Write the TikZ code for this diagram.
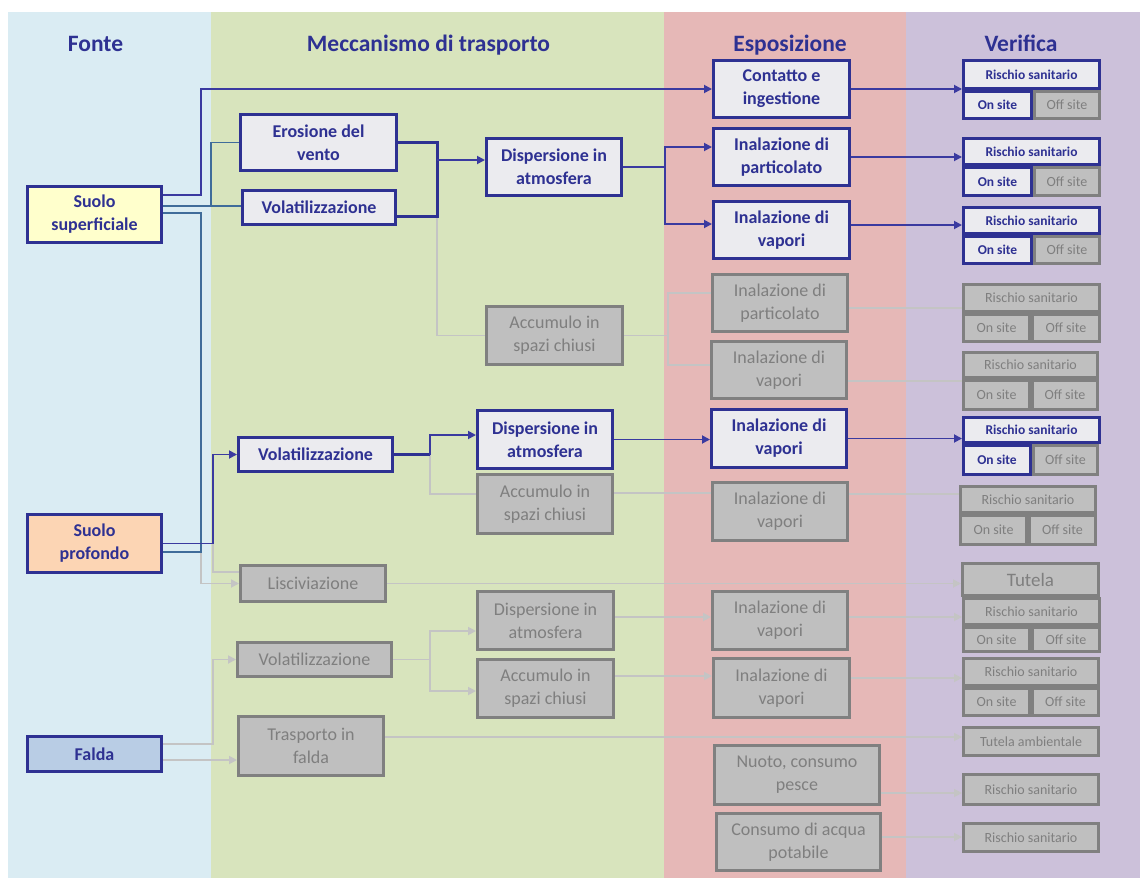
\documentclass[tikz,border=0pt]{standalone}
\usepackage{fontspec}
\setmainfont{Carlito}
\usetikzlibrary{arrows.meta}
\definecolor{dblue}{HTML}{2E3192}
\definecolor{cblue}{HTML}{3A3AA0}
\definecolor{sblue}{HTML}{3F6C9A}
\definecolor{lfill}{HTML}{EBEBEF}
\definecolor{gfill}{HTML}{BFBFBF}
\definecolor{gbord}{HTML}{808080}
\definecolor{gtext}{HTML}{7F7F7F}
\definecolor{gline}{HTML}{C4C4C4}
\definecolor{bgA}{HTML}{DAECF3}
\definecolor{bgB}{HTML}{D8E4BD}
\definecolor{bgC}{HTML}{E6B8B7}
\definecolor{bgD}{HTML}{CCC1DA}
\definecolor{yfill}{HTML}{FFFFCC}
\definecolor{pfill}{HTML}{FCD5B4}
\definecolor{ffill}{HTML}{B9CDE5}
\newcommand\bx[7]{\node[#1,minimum width={(#4-#3)*1pt-3pt},minimum height={(#6-#5)*1pt-3pt}] (#2) at ({(#3+#4)/2},{(#5+#6)/2}) {#7};}
\begin{document}
\begin{tikzpicture}[x=1pt,y=-1pt,
 bbox/.style={draw=dblue,line width=3pt,fill=lfill,text=dblue,font=\bfseries\fontsize{18}{23}\selectfont,align=center,inner sep=0pt},
 gbox/.style={draw=gbord,line width=3pt,fill=gfill,text=gtext,font=\fontsize{18}{23}\selectfont,align=center,inner sep=0pt},
 rsb/.style={draw=dblue,line width=3pt,fill=lfill,text=dblue,font=\bfseries\fontsize{13.5}{16}\selectfont,inner sep=0pt},
 rsg/.style={draw=gbord,line width=3pt,fill=gfill,text=gtext,font=\fontsize{14}{16}\selectfont,inner sep=0pt},
 head/.style={text=dblue,font=\bfseries\fontsize{23.5}{28}\selectfont,anchor=base},
 bl/.style={draw=cblue,line width=1.8pt},
 blk/.style={draw=dblue,line width=3pt},
 sl/.style={draw=sblue,line width=1.8pt},
 gl/.style={draw=gline,line width=1.8pt},
 tip/.style={-{Triangle[length=8pt,width=8pt]}},
]
\useasboundingbox (0,0) rectangle (1140,878);
% bands
\fill[white] (0,0) rectangle (1140,878);
\fill[bgA] (8,12) rectangle (211,878);
\fill[bgB] (211,12) rectangle (664,878);
\fill[bgC] (664,12) rectangle (906,878);
\fill[bgD] (906,12) rectangle (1140,878);
% headers
\node[head] (hF) at (95.5,51) {Fonte};
\node[head] (hM) at (428.5,51) {Meccanismo di trasporto};
\node[head] (hE) at (790,51) {Esposizione};
\node[head] (hV) at (1021,51) {Verifica};
% Fonte
\bx{bbox,fill=yfill}{sup}{26}{163}{185}{244}{Suolo\\superficiale}
\bx{bbox,fill=pfill}{sp}{26}{163}{513}{574}{Suolo\\profondo}
\bx{bbox,fill=ffill}{falda}{26}{163}{735}{773}{Falda}
% Meccanismo
\bx{bbox}{ero}{239}{398}{113}{172}{Erosione del\\vento}
\bx{bbox}{vol1}{241}{397}{189}{226}{Volatilizzazione}
\bx{bbox}{disp1}{485}{623}{137}{197}{Dispersione in\\atmosfera}
\bx{gbox}{acc1}{485}{624}{305}{366}{Accumulo in\\spazi chiusi}
\bx{bbox}{vol2}{237}{394}{436}{473}{Volatilizzazione}
\bx{bbox}{disp2}{476}{614}{409}{470}{Dispersione in\\atmosfera}
\bx{gbox}{acc2}{476}{614}{473}{535}{Accumulo in\\spazi chiusi}
\bx{gbox}{lisc}{239}{387}{564}{603}{Lisciviazione}
\bx{gbox}{vol3}{236}{393}{641}{678}{Volatilizzazione}
\bx{gbox}{trasp}{237}{385}{715}{777}{Trasporto in\\falda}
\bx{gbox}{disp3}{476}{615}{590}{651}{Dispersione in\\atmosfera}
\bx{gbox}{acc3}{476}{615}{658}{719}{Accumulo in\\spazi chiusi}
% Esposizione
\bx{bbox}{con}{712}{851}{59}{119}{Contatto e\\ingestione}
\bx{bbox}{inp1}{712}{851}{127}{187}{Inalazione di\\particolato}
\bx{bbox}{inv1}{712}{851}{200}{260}{Inalazione di\\vapori}
\bx{gbox}{inp2}{711}{849}{273}{333}{Inalazione di\\particolato}
\bx{gbox}{inv2}{710}{848}{340}{400}{Inalazione di\\vapori}
\bx{bbox}{inv3}{710}{848}{408}{469}{Inalazione di\\vapori}
\bx{gbox}{inv4}{711}{849}{481}{542}{Inalazione di\\vapori}
\bx{gbox}{inv5}{711}{849}{590}{651}{Inalazione di\\vapori}
\bx{gbox}{inv6}{712}{851}{657}{719}{Inalazione di\\vapori}
\bx{gbox}{nuoto}{713}{881}{744}{806}{Nuoto, consumo\\pesce}
\bx{gbox}{cons}{715}{882}{812}{872}{Consumo di acqua\\potabile}
% Verifica
\bx{rsg}{off1}{1033}{1101}{90}{120}{Off site}
\bx{rsb}{on1}{962}{1033}{90}{120}{On site}
\bx{rsb}{rs1}{962}{1101}{59}{90}{Rischio sanitario}
\bx{rsg}{off2}{1033}{1101}{166}{197}{Off site}
\bx{rsb}{on2}{962}{1033}{166}{197}{On site}
\bx{rsb}{rs2}{962}{1101}{137}{166}{Rischio sanitario}
\bx{rsg}{off3}{1033}{1101}{235}{265}{Off site}
\bx{rsb}{on3}{962}{1033}{235}{265}{On site}
\bx{rsb}{rs3}{962}{1101}{206}{235}{Rischio sanitario}
\bx{rsg}{off4}{1031}{1101}{313}{343}{Off site}
\bx{rsg}{on4}{962}{1031}{313}{343}{On site}
\bx{rsg}{rs4}{962}{1101}{283}{313}{Rischio sanitario}
\bx{rsg}{off5}{1031}{1099}{379}{411}{Off site}
\bx{rsg}{on5}{962}{1031}{379}{411}{On site}
\bx{rsg}{rs5}{962}{1099}{351}{379}{Rischio sanitario}
\bx{rsg}{off6}{1032}{1099}{444}{476}{Off site}
\bx{rsb}{on6}{962}{1032}{444}{476}{On site}
\bx{rsb}{rs6}{962}{1101}{416}{444}{Rischio sanitario}
\bx{rsg}{off7}{1028}{1097}{514}{546}{Off site}
\bx{rsg}{on7}{959}{1028}{514}{546}{On site}
\bx{rsg}{rs7}{959}{1097}{485}{514}{Rischio sanitario}
\bx{rsg,font=\fontsize{19}{22}\selectfont}{tut}{961}{1100}{562}{597}{Tutela}
\bx{rsg}{off8}{1031}{1101}{626}{653}{Off site}
\bx{rsg}{on8}{962}{1031}{626}{653}{On site}
\bx{rsg}{rs8}{962}{1101}{597}{626}{Rischio sanitario}
\bx{rsg}{off9}{1031}{1100}{687}{717}{Off site}
\bx{rsg}{on9}{962}{1031}{687}{717}{On site}
\bx{rsg}{rs9}{962}{1100}{657}{687}{Rischio sanitario}
\bx{rsg}{tutamb}{962}{1100}{726}{757}{Tutela ambientale}
\bx{rsg}{rsn}{962}{1100}{773}{806}{Rischio sanitario}
\bx{rsg}{rsc}{962}{1100}{822}{853}{Rischio sanitario}
% coordinates
\coordinate (brk) at ([xshift=39pt]ero.east);
\coordinate (j1) at ([xshift=42pt]disp1.east);
\coordinate (j2) at ([xshift=44pt]acc1.east);
\coordinate (j3) at ([xshift=36pt]vol2.east);
\coordinate (j4) at ([xshift=37pt]vol3.east);
% gray connectors
\draw[gl] ([yshift=-8.5pt]vol1.east -| brk) |- (acc1.west);
\draw[gl] (acc1.east) -- (j2);
\draw[gl] (j2) |- ([yshift=10pt]inp2.west);
\draw[gl] (j2) |- ([yshift=5pt]inv2.west);
\coordinate (c4) at ([yshift=-5pt]inp2.east); \draw[gl] (c4) -- (c4 -| rs4.west);
\coordinate (c5) at ([yshift=-11pt]inv2.east); \draw[gl] (c5) -- (c5 -| rs5.west);
\draw[gl] (j3) |- ([yshift=10pt]acc2.west);
\coordinate (c7) at ([yshift=11pt]acc2.east); \draw[gl] (c7) -- (c7 -| inv4.west);
\coordinate (c8) at ([yshift=17.5pt]inv4.east); \draw[gl] (c8) -- (c8 -| rs7.west);
\draw[gl,tip] ([yshift=-8.5pt]sp.east) ++(38,0) |- (lisc.west);
\draw[gl] (sp.east) ++(50,0) |- ([yshift=11.5pt]lisc.west);
\draw[gl,tip] (lisc.east) -- (lisc.east -| tut.west);
\coordinate (f1) at ([yshift=10pt]falda.east); \draw[gl,tip] (f1) -- ++(50,0) |- (vol3.west);
\coordinate (f2) at ([yshift=-6pt]falda.east); \draw[gl,tip] (f2) -- (f2 -| trasp.west);
\draw[gl] (vol3.east) -- (j4);
\draw[gl,tip] (j4) |- ([yshift=-10.5pt]disp3.west);
\draw[gl,tip] (j4) |- ([yshift=-2.5pt]acc3.west);
\coordinate (c9) at ([yshift=3.5pt]disp3.east); \draw[gl,tip] (c9) -- (c9 -| inv5.west);
\coordinate (c10) at ([yshift=3.5pt]inv5.east); \draw[gl,tip] (c10) -- (c10 -| rs8.west);
\coordinate (c11) at ([yshift=12.5pt]acc3.east); \draw[gl,tip] (c11) -- (c11 -| inv6.west);
\coordinate (c12) at ([yshift=10pt]inv6.east); \draw[gl,tip] (c12) -- (c12 -| rs9.west);
\coordinate (c13) at ([yshift=9pt]trasp.east); \draw[gl,tip] (c13) -- (c13 -| tutamb.west);
\coordinate (c14) at ([yshift=-18pt]nuoto.east); \draw[gl,tip] (c14) -- (c14 -| rsn.west);
\coordinate (c15) at ([yshift=5pt]cons.east); \draw[gl,tip] (c15) -- (c15 -| rsc.west);
% steel-blue connectors
\draw[sl] ([yshift=8.5pt]sup.east) -- ([yshift=8.5pt]sup.east -| vol1.west);
\draw[sl] ([yshift=8.5pt]sup.east) ++(48,0) |- (ero.west);
\draw[sl] ([yshift=1.5pt]sup.east) -- ++(38,0) |- ([yshift=-8.5pt]sp.east);
% blue connectors
\draw[bl,tip] ([yshift=19.5pt]sup.east) -- ++(38,0) |- (con.west);
\draw[bl,tip] (sp.east) -- ++(50,0) |- (vol2.west);
\draw[blk] (ero.east) -- (brk) |- ([yshift=-8.5pt]vol1.east);
\coordinate (d1in) at ([yshift=7pt]disp1.west);
\draw[bl,tip] (brk |- d1in) -- (d1in);
\draw[bl] (disp1.east) -- (j1);
\draw[bl,tip] (j1) |- ([yshift=10pt]inp1.west);
\draw[bl,tip] (j1) |- ([yshift=6pt]inv1.west);
\draw[bl,tip] (con.east) -- (con.east -| rs1.west);
\draw[bl,tip] (inp1.east) -- (inp1.east -| rs2.west);
\coordinate (c3) at ([yshift=5pt]inv1.east); \draw[bl,tip] (c3) -- (c3 -| rs3.west);
\draw[blk] (vol2.east) -- (j3);
\coordinate (d2in) at ([yshift=4.5pt]disp2.west);
\draw[bl,tip] (j3) |- (d2in);
\draw[bl,tip] (disp2.east) -- (disp2.east -| inv3.west);
\draw[bl,tip] (inv3.east) -- (inv3.east -| rs6.west);
\end{tikzpicture}
\end{document}
